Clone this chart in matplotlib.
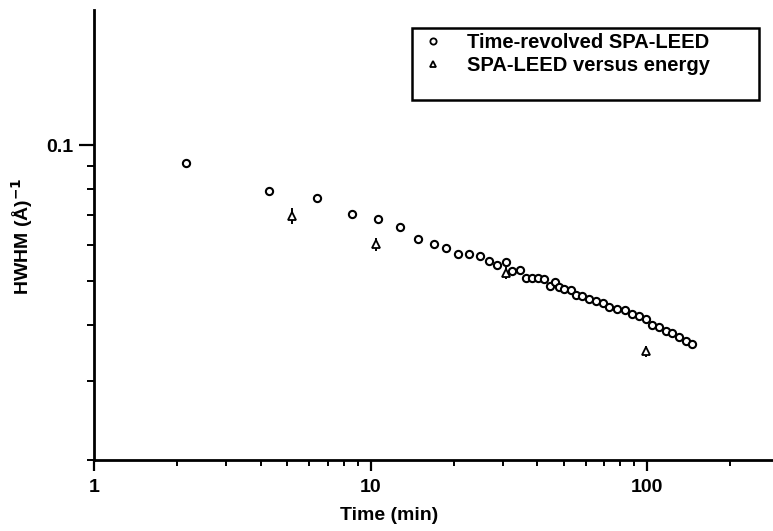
import matplotlib.pyplot as plt
from matplotlib.lines import Line2D
from matplotlib.patches import Rectangle

plt.rcParams['font.family'] = ['Liberation Sans', 'DejaVu Sans']

# time-resolved SPA-LEED (open circles)
t_tr = [2.16, 4.30, 6.42, 8.55, 10.6, 12.8, 14.8, 16.9, 18.7, 20.7, 22.7, 24.8,
        26.7, 28.7, 30.8, 32.4, 34.8, 36.6, 38.5, 40.4, 42.5, 44.6, 46.5, 48.1,
        50.1, 53.2, 55.2, 58.0, 61.7, 65.2, 69.3, 72.9, 78.1, 83.2, 88.4, 93.5,
        99.4, 104.5, 110.5, 116.8, 123.4, 130.5, 138.0, 145.9]
hwhm_tr = [0.0916, 0.0792, 0.0766, 0.0705, 0.0687, 0.0658, 0.0621, 0.0604, 0.0591,
           0.0574, 0.0574, 0.0568, 0.0553, 0.0543, 0.0551, 0.0527, 0.0528, 0.0508,
           0.0507, 0.0507, 0.0505, 0.0488, 0.0497, 0.0484, 0.0479, 0.0477, 0.0465,
           0.0463, 0.0455, 0.0451, 0.0446, 0.0437, 0.0433, 0.0430, 0.0423, 0.0417,
           0.0411, 0.0399, 0.0396, 0.0387, 0.0383, 0.0375, 0.0368, 0.0362]

# SPA-LEED versus energy (open triangles with error bars)
t_en = [5.2, 10.5, 30.8, 99.4]
hwhm_en = [0.0697, 0.0603, 0.0520, 0.0349]
err_en = [0.0029, 0.0021, 0.0016, 0.0010]

W, H = 773, 531
fig = plt.figure(figsize=(W / 100, H / 100), dpi=100)


def px(x, y):
    # pixel (from top-left) -> figure fraction
    return x / W, 1 - y / H


l, b = px(94, 460)
r, t = px(775, 10)
ax = fig.add_axes([l, b, r - l, t - b])
ax.set_xscale('log')
ax.set_yscale('log')
ax.set_xlim(1, 290)
ax.set_ylim(0.02, 0.2)

ax.errorbar(t_en, hwhm_en, yerr=err_en, fmt='none', ecolor='black',
            elinewidth=1.4, capsize=0, zorder=2)
ax.plot(t_en, hwhm_en, linestyle='none', marker='^', markersize=5.5,
        markerfacecolor='white', markeredgecolor='black', markeredgewidth=1.3,
        zorder=3)
ax.plot(t_tr, hwhm_tr, linestyle='none', marker='o', markersize=5.2,
        markerfacecolor='white', markeredgecolor='black', markeredgewidth=1.5,
        zorder=4)

for s in ['top', 'right']:
    ax.spines[s].set_visible(False)
for s in ['left', 'bottom']:
    ax.spines[s].set_linewidth(2)

ax.set_xticks([1, 10, 100], labels=['1', '10', '100'])
ax.set_xticks([2, 3, 4, 5, 6, 7, 8, 9, 20, 30, 40, 50, 60, 70, 80, 90, 200],
              minor=True, labels=[])
ax.set_yticks([0.1], labels=['0.1'])
ax.set_yticks([0.02, 0.03, 0.04, 0.05, 0.06, 0.07, 0.08, 0.09], minor=True, labels=[])

ax.tick_params(which='major', direction='out', length=8, width=1.6,
               labelsize=14, pad=6)
ax.tick_params(which='minor', direction='out', length=4, width=1.4)
ax.tick_params(axis='y', which='major', length=11, pad=4)
ax.tick_params(axis='y', which='minor', length=5)
for lab in ax.get_xticklabels() + ax.get_yticklabels():
    lab.set_fontweight('bold')

ax.set_xlabel('Time (min)', fontsize=14, fontweight='bold')
ax.xaxis.set_label_coords((389 - 94) / 681, (460 - 507) / 450)
ax.set_ylabel('HWHM (Å)$^{\\mathbf{-1}}$', fontsize=14, fontweight='bold')
ax.yaxis.set_label_coords((35 - 94) / 681, (460 - 236) / 450)

# legend box
x0, y0 = px(412, 100)
x1, y1 = px(759, 28)
fig.add_artist(Rectangle((x0, y0), x1 - x0, y1 - y0, transform=fig.transFigure,
                         fill=False, edgecolor='black', linewidth=1.8))
handles = [
    Line2D([], [], linestyle='none', marker='o', markersize=4.5,
           markerfacecolor='white', markeredgecolor='black', markeredgewidth=1.3),
    Line2D([], [], linestyle='none', marker='^', markersize=4.5,
           markerfacecolor='white', markeredgecolor='black', markeredgewidth=1.3),
]
lx, ly = px(423, 33)
fig.legend(handles, ['Time-revolved SPA-LEED', 'SPA-LEED versus energy'],
           loc='upper left', bbox_to_anchor=(lx, ly), frameon=False,
           prop={'size': 14.5, 'weight': 'bold'}, handlelength=1.0,
           handletextpad=1.2, labelspacing=0.2, borderpad=0, borderaxespad=0)

fig.savefig('out.png', dpi=100)
